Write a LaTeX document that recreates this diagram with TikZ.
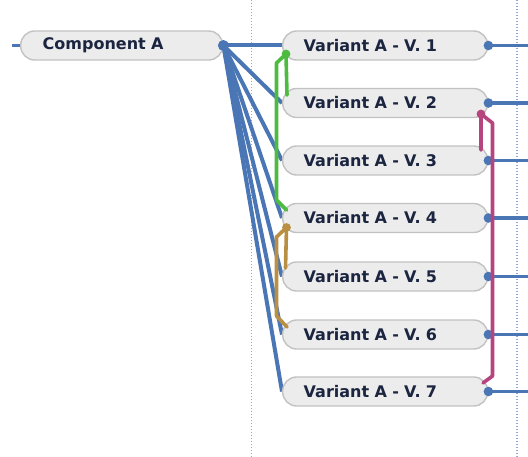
\documentclass[tikz,border=0pt]{standalone}
\usepackage{fontspec}
\setmainfont{DejaVu Sans}
\definecolor{linkblue}{HTML}{4A76B5}
\definecolor{linkgreen}{HTML}{4CBB3F}
\definecolor{linkgold}{HTML}{B98F43}
\definecolor{linkmagenta}{HTML}{B5447F}
\definecolor{boxfill}{HTML}{ECECEC}
\definecolor{boxline}{HTML}{C2C2C2}
\definecolor{gridline}{HTML}{8FA8D6}
\definecolor{labeltext}{HTML}{1B2540}
\pgfdeclarelayer{bg}
\pgfsetlayers{bg,main}
\begin{document}
\begin{tikzpicture}[x=1pt,y=-1pt,
  itembox/.style={draw=boxline, line width=1.4pt, fill=boxfill,
    rounded corners=14pt, minimum height=29pt, inner xsep=21pt, inner ysep=0pt,
    text width=163pt, align=left, anchor=west,
    font=\fontsize{16}{18}\selectfont\bfseries, text=labeltext},
  fanline/.style={draw=linkblue, line width=4pt},
  stubline/.style={draw=linkblue, line width=3.6pt},
  guide/.style={draw=gridline, line width=1.1pt, dash pattern=on 1.2pt off 1.8pt},
  chain/.style={line width=3.6pt, line join=round, line cap=round},
]
\useasboundingbox (0,0) rectangle (528,457);

% main component
\node[itembox, inner xsep=22pt, text width=158pt] (comp) at (20,45.5) {Component A};

% variants
\foreach \i/\y in {1/45.5, 2/103, 3/160.5, 4/218, 5/276.5, 6/334.5, 7/391.5}
  \node[itembox] (v\i) at (282,\y) {Variant A - V. \i};

\coordinate (rim) at (528,0);
\coordinate (lstub) at (12,45.5);

\begin{pgfonlayer}{bg}
  % guide lines
  \coordinate (gtop1) at (251.5,0);  \coordinate (gbot1) at (251.5,457);
  \coordinate (gtop2) at (517,0);    \coordinate (gbot2) at (517,457);
  \draw[guide] (gtop1) -- (gbot1);
  \draw[guide] (gtop2) -- (gbot2);
  % fan from the component to every variant
  \foreach \i in {1,...,7}
    \draw[fanline] (comp.east) -- (v\i.west);
  \draw[stubline] (lstub) -- (comp.west);
  \foreach \i in {1,...,7}
    \draw[stubline] (v\i.east) -- (v\i.east -| rim);
\end{pgfonlayer}

% port dots
\fill[linkblue] (comp.east) circle (5.5pt);
\foreach \i in {1,...,7}
  \fill[linkblue] (v\i.east) circle (4.8pt);

% green chain: V1 - V2 - V4
\coordinate (g0) at (286,54);
\coordinate (g1) at (287,95);
\coordinate (g2) at (276.5,63);
\coordinate (g3) at (276.5,200);
\coordinate (g4) at (286.5,210);
\draw[chain, linkgreen] (g1) -- (g0) -- (g2) -- (g3) -- (g4);
\fill[linkgreen] (g0) circle (4.4pt);

% gold chain: V4 - V5 - V6
\coordinate (o0) at (286.5,227.5);
\coordinate (o1) at (285.5,268);
\coordinate (o2) at (276.5,237);
\coordinate (o3) at (276.5,316);
\coordinate (o4) at (287,327);
\draw[chain, linkgold] (o1) -- (o0) -- (o2) -- (o3) -- (o4);
\fill[linkgold] (o0) circle (4.4pt);

% magenta chain: V2 - V3 - V7
\coordinate (m0) at (481,114);
\coordinate (m1) at (481,150);
\coordinate (m2) at (492.5,123);
\coordinate (m3) at (492.5,376);
\coordinate (m4) at (483,383);
\draw[chain, linkmagenta] (m1) -- (m0) -- (m2) -- (m3) -- (m4);
\fill[linkmagenta] (m0) circle (4.4pt);
\end{tikzpicture}
\end{document}
